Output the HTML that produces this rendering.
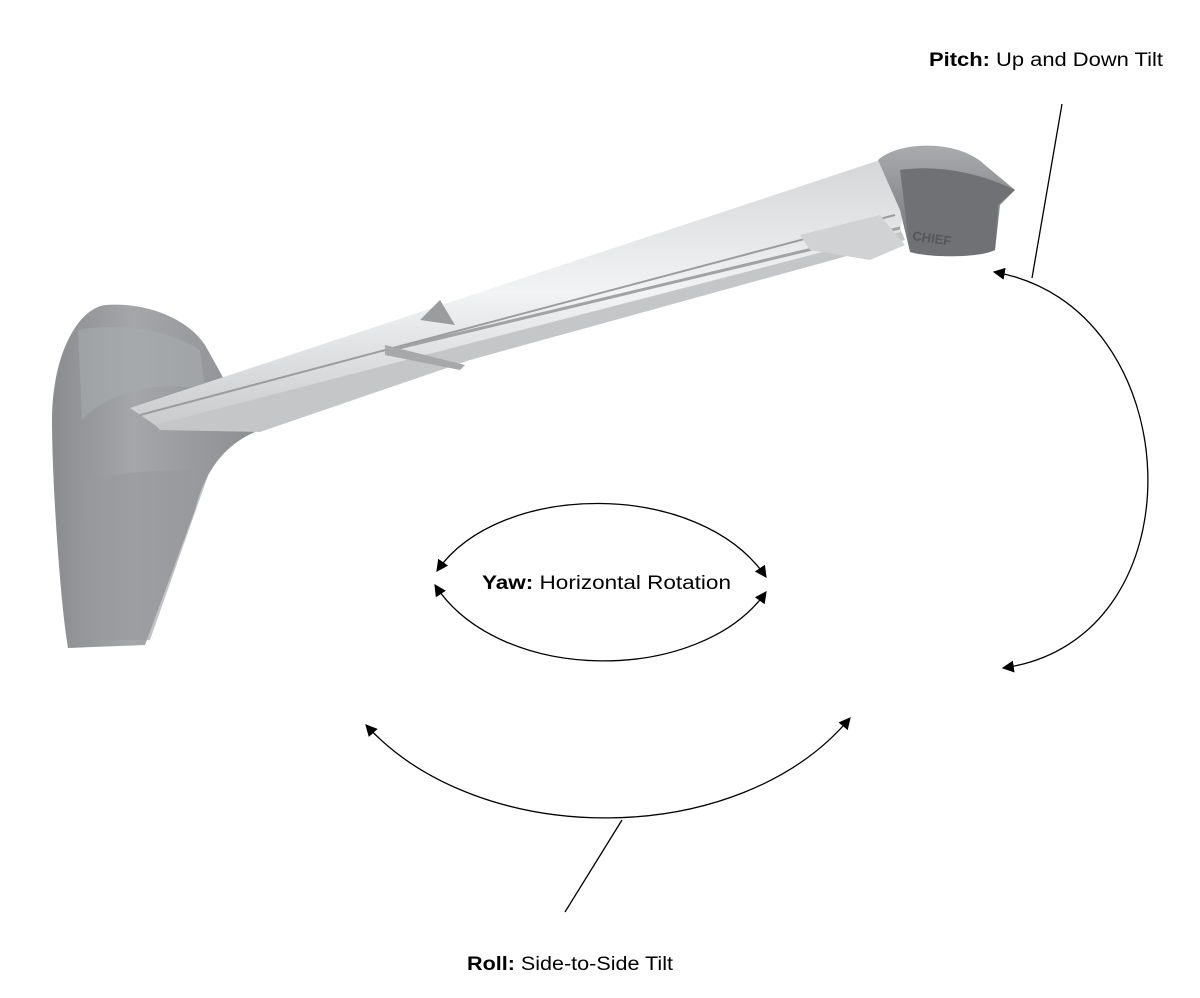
<!DOCTYPE html>
<html><head><meta charset="utf-8"><style>
html,body{margin:0;padding:0;background:#fff;}
svg{display:block}
text{font-family:"Liberation Sans",sans-serif;font-size:19px;fill:#000}
</style></head><body>
<svg width="1200" height="998" viewBox="0 0 1200 998" xmlns="http://www.w3.org/2000/svg">
<defs>
<marker id="ah" viewBox="0 0 10 10" refX="9" refY="5" markerWidth="12" markerHeight="12" markerUnits="userSpaceOnUse" orient="auto-start-reverse">
<path d="M0,0 L10,5 L0,10 z" fill="#000"/>
</marker>
<linearGradient id="wall" x1="0" y1="0" x2="1" y2="0">
<stop offset="0" stop-color="#8a8c8f"/><stop offset="0.4" stop-color="#a4a6a9"/><stop offset="1" stop-color="#8d8f92"/>
</linearGradient>
<linearGradient id="arm" x1="0" y1="0" x2="0" y2="1">
<stop offset="0" stop-color="#d4d6d8"/><stop offset="0.5" stop-color="#f2f3f4"/><stop offset="1" stop-color="#c9cbcd"/>
</linearGradient>
<linearGradient id="head" x1="0" y1="0" x2="0" y2="1">
<stop offset="0" stop-color="#a9abae"/><stop offset="1" stop-color="#6e7073"/>
</linearGradient>
</defs>

<!-- wall plate -->
<path d="M105,305 C140,302 185,315 205,345 C225,380 245,420 255,432 C225,445 205,470 195,510 L145,645 L68,648 C60,600 52,480 52,420 C52,360 75,310 105,305 Z" fill="url(#wall)"/>
<path d="M78,330 C120,322 170,330 200,350 L205,390 C160,380 110,390 82,420 Z" fill="#a9abae" opacity="0.6"/>
<path d="M85,480 C130,470 180,470 210,470 L150,640 L95,640 Z" fill="#97999c" opacity="0.6"/>

<!-- arm lower rail -->
<path d="M150,420 L890,205 L905,240 L470,360 L260,432 L160,430 Z" fill="#c4c6c8"/>
<!-- arm main -->
<path d="M130,408 L880,160 L905,200 L900,232 L155,425 Z" fill="url(#arm)"/>
<path d="M140,415 L895,215" stroke="#9a9c9e" stroke-width="2"/>
<path d="M390,350 L900,228" stroke="#a0a2a4" stroke-width="3"/>
<path d="M440,300 L420,320 L455,325 Z" fill="#9a9c9e"/>
<path d="M385,345 L465,365 L460,370 L385,355 Z" fill="#a6a8aa"/>
<path d="M800,235 L880,215 L905,245 L870,260 L810,250 Z" fill="#d0d2d4"/>

<!-- head -->
<path d="M878,160 C900,140 960,140 985,165 L1015,190 L1000,205 L995,250 C980,258 930,258 910,252 L900,210 Z" fill="url(#head)"/>
<path d="M900,170 C930,165 975,170 1015,190 L998,205 L995,250 C970,258 925,255 910,250 Z" fill="#6f7174"/>
<text x="912" y="240" style="font-size:13px;font-weight:bold;fill:#55575a" transform="rotate(8 912 240)">CHIEF</text>

<!-- pitch -->
<text x="929" y="66" textLength="234" lengthAdjust="spacingAndGlyphs"><tspan font-weight="bold">Pitch:</tspan> Up and Down Tilt</text>
<line x1="1062" y1="104" x2="1032" y2="278" stroke="#000" stroke-width="1.3"/>
<path d="M994,272 C1190,305 1205,640 1003,668" fill="none" stroke="#000" stroke-width="1.3" marker-start="url(#ah)" marker-end="url(#ah)"/>

<!-- yaw -->
<path d="M437,571 C500,480 700,480 766,577" fill="none" stroke="#000" stroke-width="1.3" marker-start="url(#ah)" marker-end="url(#ah)"/>
<path d="M435,585 C500,685 700,685 766,592" fill="none" stroke="#000" stroke-width="1.3" marker-start="url(#ah)" marker-end="url(#ah)"/>
<text x="482" y="589" textLength="249" lengthAdjust="spacingAndGlyphs"><tspan font-weight="bold">Yaw:</tspan> Horizontal Rotation</text>

<!-- roll -->
<path d="M366,725 C480,850 740,850 850,718" fill="none" stroke="#000" stroke-width="1.3" marker-start="url(#ah)" marker-end="url(#ah)"/>
<line x1="622" y1="820" x2="565" y2="912" stroke="#000" stroke-width="1.3"/>
<text x="467" y="970" textLength="206" lengthAdjust="spacingAndGlyphs"><tspan font-weight="bold">Roll:</tspan> Side-to-Side Tilt</text>
</svg>
</body></html>
